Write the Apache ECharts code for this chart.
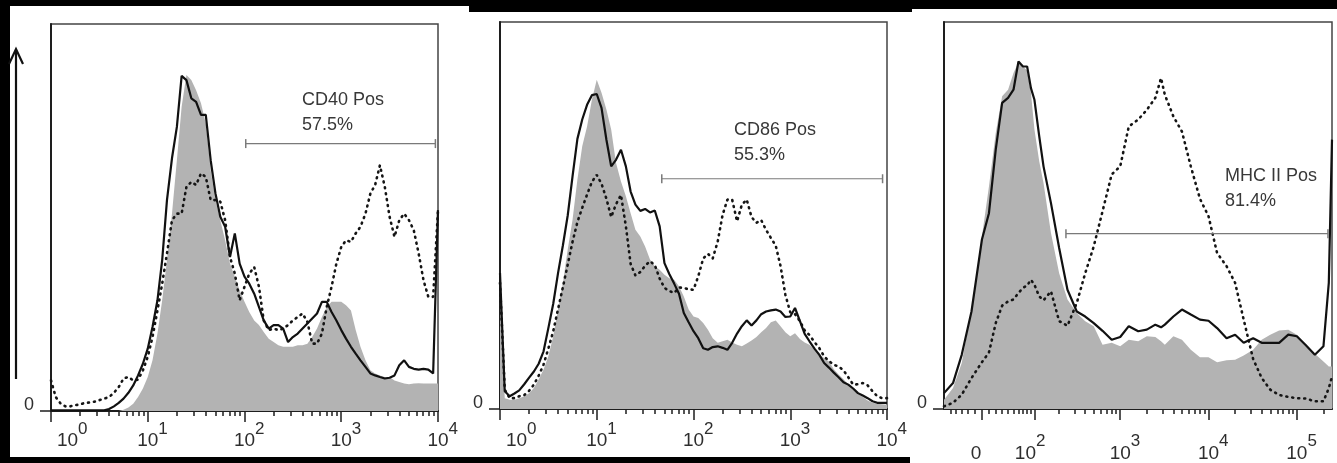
<!DOCTYPE html>
<html><head><meta charset="utf-8">
<script src="https://cdn.jsdelivr.net/npm/echarts@6/dist/echarts.min.js"></script>
<style>html,body{margin:0;padding:0;background:#fff;}#c{width:1337px;height:463px;}</style>
</head><body><div id="c"></div>
<script>
// ---- shared x grid for the two log-scaled panels (fluorescence intensity) ----
const logX = [1,1.12,1.26,1.41,1.58,1.78,2,2.24,2.51,2.82,3.16,3.55,3.98,4.47,5.01,5.62,6.31,7.08,7.94,8.91,
  10,11.2,12.6,14.1,15.8,17.8,20,22.4,25.1,28.2,31.6,35.5,39.8,44.7,50.1,56.2,63.1,70.8,79.4,89.1,
  100,112,126,141,158,178,200,224,251,282,316,355,398,447,501,562,631,708,794,891,
  1000,1120,1260,1410,1580,1780,2000,2240,2510,2820,3160,3550,3980,4470,5010,5620,6310,7080,7940,8910,10000];

// ---- Panel 1: CD40 (% of max) ----
const cd40Isotype = [0,0,0,0,0,0,0,0,0,0,0,0,0,0,0,0.3,0.9,1.9,3.6,5.8,8.8,13.1,20.0,28.6,39.0,51.0,64.8,78.6,86.8,85.5,
  82.9,79.5,74.3,62.2,54.5,49.3,44.1,38.1,34.7,31.2,28.2,25.6,23.4,22.2,20.4,18.7,17.8,17.0,16.6,16.6,
  16.6,17.0,17.0,17.4,19.1,21.3,24.3,26.9,28.2,28.2,28.2,27.3,26.0,20.9,16.6,13.1,10.5,9.7,9.2,8.8,
  8.8,7.9,7.5,7.1,6.9,7.1,7.2,7.1,7.1,7.1,7.1];
const cd40Solid = [0.2,0.2,0.2,0.2,0.2,0.2,0.2,0.2,0.2,0.2,0.2,0.2,0.5,1.2,2.1,3.2,4.7,6.6,9.2,12.2,
  16.1,21.7,28.6,39.0,54.5,65.3,73.4,86.6,85.5,80.8,79.9,76.5,76.5,64.8,56.2,50.2,47.6,39.8,45.9,38.1,
  34.7,32.9,30.3,26.9,23.4,21.3,22.2,22.2,21.3,17.8,19.1,20.0,21.3,22.6,23.9,25.2,28.2,28.2,25.6,23.4,
  20.9,18.7,16.6,14.8,13.1,11.4,9.7,9.2,8.8,8.4,8.6,9.2,11.8,13.1,11.4,10.9,10.7,10.9,10.7,9.7,51.9];
const cd40Dotted = [7.9,3.6,1.9,1.2,1.2,1.5,1.7,2.1,2.2,2.4,2.8,3.2,3.6,4.7,6.2,8.4,8.8,7.9,8.1,10.5,
  14.0,19.1,26.0,32.9,40.7,49.3,51.0,51.0,57.9,59.2,58.4,61.4,60.5,54.5,54.5,54.1,49.3,39.8,35.5,28.6,
  32.1,35.5,37.2,32.1,23.4,20.9,21.3,20.9,21.3,22.2,23.4,24.3,25.2,23.0,17.4,17.4,20.0,26.9,32.1,38.1,
  42.4,44.1,43.7,45.9,47.6,51.0,56.2,58.4,63.5,57.9,50.2,45.0,49.3,51.0,49.3,46.7,40.7,33.8,29.5,29.5,51.9];

// ---- Panel 2: CD86 ----
const cd86Isotype = [28.3,2.8,2.4,2.4,2.8,3.3,4.1,5.4,7.6,10.2,13.6,18.8,25.7,32.6,41.2,48.9,59.3,67.9,73.0,79.9,
  85.1,81.7,77.3,72.2,63.6,58.8,55.0,50.6,46.3,44.6,42.0,38.6,36.9,36.0,34.7,33.8,33.4,31.7,29.1,25.7,
  23.9,23.5,22.2,20.5,18.3,17.1,17.5,17.9,17.2,16.6,16.2,16.9,17.7,18.6,19.8,20.9,22.4,22.9,21.4,19.8,
  18.8,19.6,18.1,17.2,16.6,15.3,14.0,13.2,12.3,10.3,8.9,7.7,6.3,5.2,4.1,3.1,2.2,1.6,1.4,1.2,1.1];
const cd86Solid = [35.1,4.6,3.3,4.0,4.8,6.4,8.1,9.7,11.7,14.9,20.9,27.2,35.1,42.3,50.0,60.1,69.8,74.8,78.6,81.1,
  81.4,77.8,69.5,62.7,64.4,67.0,62.7,56.2,52.8,51.2,51.7,50.8,51.3,47.2,37.7,34.9,32.4,29.8,24.8,22.4,
  20.1,18.3,15.7,15.3,16.0,16.2,15.8,15.3,17.1,19.5,21.4,22.9,21.6,22.9,24.5,25.2,25.5,25.7,25.2,23.8,
  23.9,26.1,22.7,19.4,17.5,15.6,14.0,11.9,10.7,9.4,8.2,6.9,6.3,5.3,4.1,3.5,2.8,2.0,1.6,1.6,1.6];
const cd86Dotted = [32.6,5.0,2.8,2.8,3.3,3.6,4.7,6.3,8.6,11.5,15.6,20.1,25.8,31.5,37.3,43.2,48.3,52.0,55.4,58.7,
  60.5,58.2,54.3,49.6,52.9,55.3,47.2,37.5,34.5,35.4,37.0,38.2,37.2,33.7,31.3,30.5,30.0,31.4,31.3,30.9,
  30.8,34.3,38.9,40.1,38.9,43.3,50.2,54.1,54.1,48.5,52.8,54.1,49.6,48.1,48.8,46.3,44.2,42.2,36.9,29.5,
  25.0,24.5,22.7,20.3,19.1,17.3,15.7,13.6,12.4,11.4,11.0,10.0,8.2,6.3,6.4,6.7,6.1,4.6,3.3,2.8,2.8];

// ---- Panel 3: MHC II (biexponential axis) ----
const mhcX = [-63,-45,-30,-15,0,10,20,30,40,50,60,70,80,90,100,115,130,160,200,250,320,400,500,630,800,
  1000,1250,1600,2000,2500,2900,3200,4000,5000,6300,8000,10000,12500,16000,20000,25000,32000,40000,50000,
  63000,80000,100000,125000,160000,200000,230000,250000];
const mhcIsotype = [2.4,5.4,11.9,25.7,44.6,57.5,71.3,80.8,82.5,86.8,89.6,88.5,87.5,81.7,72.2,64.0,58.4,45.5,35.1,28.3,
  24.8,22.7,21.4,16.6,17.1,16.2,17.9,17.5,18.8,18.6,17.5,16.6,18.8,17.9,15.3,13.4,13.4,12.1,12.6,12.7,
  13.8,15.3,17.9,19.2,20.3,20.5,19.2,16.6,14.3,12.3,11.0,11.0];
const mhcSolid = [4.1,6.7,14.0,25.2,43.8,50.6,67.0,79.1,80.4,82.5,89.8,88.5,88.5,82.9,79.9,70.5,62.7,53.2,41.6,30.8,
  25.2,23.9,22.2,20.2,17.9,18.6,21.4,20.1,20.5,21.8,21.1,21.8,23.9,25.7,24.4,23.1,22.8,20.9,18.3,19.2,
  17.1,18.3,17.1,17.1,17.1,19.2,18.8,16.6,14.0,16.2,32.6,69.6];
const mhcDotted = [0.7,1.6,3.7,8.0,12.1,14.6,22.2,26.7,27.8,28.3,30.0,31.3,31.9,33.4,32.1,29.1,28.1,30.4,22.7,21.5,
  27.4,35.1,42.0,51.1,60.6,62.7,73.0,74.8,77.3,80.4,85.5,81.2,75.6,71.7,62.7,54.3,49.8,40.3,36.9,32.6,
  23.1,12.9,8.0,5.0,3.6,3.1,2.8,2.7,2.0,2.0,5.4,8.4];

// ---- gates ----
const gateNames = ['CD40 Pos', 'CD86 Pos', 'MHC II Pos'];
const gatePct = ['57.5%', '55.3%', '81.4%'];
const gateX = [[103, 9400], [47, 9000], [240, 225000]];
const gateY = [69.1, 59.5, 45.3];

// ---- tick values ----
const logMajor = [1, 10, 100, 1000, 10000];
const logMinor = [2,3,4,5,6,7,8,9,20,30,40,50,60,70,80,90,200,300,400,500,600,700,800,900,2000,3000,4000,5000,6000,7000,8000,9000];
const biexMajor = [0, 100, 1000, 10000, 100000];
const biexMinor = [-50,-40,-30,-20,-10,10,20,30,40,50,60,70,80,90,200,300,400,500,600,700,800,900,
  2000,3000,4000,5000,6000,7000,8000,9000,20000,30000,40000,50000,60000,70000,80000,90000,200000];

// biexponential (arcsinh) display transform
const W = 27.2;
function biex(v) { return Math.asinh(v / (2 * W)) / Math.LN10; }
function unbiex(d) { return 2 * W * Math.sinh(d * Math.LN10); }
function pairs(xs, ys, f) { return xs.map((x, i) => [f ? f(x) : x, ys[i]]); }

const FONT = '"Liberation Sans", Arial, sans-serif';
const TXT = '#2e2e2e';
const baseRich = {
  b: { fontSize: 19, fontFamily: FONT, color: TXT, lineHeight: 19 },
  q: { width: 33, fontSize: 19, lineHeight: 19 },
  r: { width: 12, fontSize: 19, lineHeight: 19 },
  r2: { width: 18, fontSize: 19, lineHeight: 19 }
};
const expRich = {
  e: { fontSize: 17, fontFamily: FONT, color: TXT, lineHeight: 17 },
  g: { width: 30.6, fontSize: 17, lineHeight: 17 },
  g0: { width: 63.6, fontSize: 17, lineHeight: 17 },
  g2: { width: 12.6, fontSize: 17, lineHeight: 17 }
};
// exponent of a major tick value
function expOf(v, isBiex) {
  const raw = isBiex ? unbiex(v) : v;
  if (Math.abs(raw) < 1) return null;
  return Math.round(Math.log10(raw));
}
function baseFmt(isBiex) {
  return function (v) {
    const e = expOf(v, isBiex);
    if (e === null) return '{b|0}{r| }';
    if (!isBiex && e === 0) return '{q| }{b|10}';
    if (isBiex && e === 2) return '{b|10}{r2| }';
    return '{b|10}';
  };
}
function expFmt(isBiex) {
  return function (v) {
    const e = expOf(v, isBiex);
    if (e === null) return '';
    if (!isBiex && e === 0) return '{g0| }{e|' + e + '}';
    if (isBiex && e === 2) return '{g2| }{e|' + e + '}';
    return '{g| }{e|' + e + '}';
  };
}

const grids = [
  { left: 51, top: 24, width: 387, height: 387 },
  { left: 500, top: 22, width: 387, height: 387 },
  { left: 944, top: 22, width: 388, height: 387 }
].map(g => Object.assign(g, { show: true, borderColor: '#444', borderWidth: 1.5, backgroundColor: 'transparent' }));
const baseMargin = [20, 22, 35];
const expMargin = [9.5, 11.5, 23.5];

const axisLineStyle = { color: '#1e1e1e', width: 2 };
const tickStyle = { color: '#1e1e1e', width: 1.5 };
const xAxes = [];
[0, 1, 2].forEach(g => {
  const isBiex = g === 2;
  const base = isBiex
    ? { type: 'value', min: biex(-63), max: biex(250000) }
    : { type: 'log', logBase: 10, min: 1, max: 10000 };
  const major = isBiex ? biexMajor.map(biex) : logMajor;
  const minor = isBiex ? biexMinor.map(biex) : logMinor;
  // major ticks + base "10" labels
  xAxes.push(Object.assign({}, base, {
    gridIndex: g, position: 'bottom',
    axisLine: { show: true, onZero: false, lineStyle: axisLineStyle },
    axisTick: { show: true, customValues: major, length: 11, lineStyle: tickStyle },
    axisLabel: { show: true, customValues: major, margin: baseMargin[g], formatter: baseFmt(isBiex), rich: baseRich },
    splitLine: { show: false }
  }));
  // minor ticks
  xAxes.push(Object.assign({}, base, {
    gridIndex: g, position: 'bottom',
    axisLine: { show: false },
    axisTick: { show: true, customValues: minor, length: 5, lineStyle: tickStyle },
    axisLabel: { show: false },
    splitLine: { show: false }
  }));
  // exponents (superscripts)
  xAxes.push(Object.assign({}, base, {
    gridIndex: g, position: 'bottom',
    axisLine: { show: false },
    axisTick: { show: false },
    axisLabel: { show: true, customValues: major, margin: expMargin[g], formatter: expFmt(isBiex), rich: expRich },
    splitLine: { show: false }
  }));
});

const yAxes = [0, 1, 2].map(g => ({
  type: 'value', gridIndex: g, min: 0, max: 100,
  axisLine: { show: true, onZero: false, lineStyle: axisLineStyle },
  axisTick: { show: true, customValues: [0], length: 11, lineStyle: tickStyle },
  axisLabel: { show: true, customValues: [0], formatter: () => '0', margin: 17, fontSize: 18,
    fontFamily: FONT, color: TXT, verticalAlign: 'bottom', lineHeight: 12 },
  splitLine: { show: false }
}));

const panelData = [
  { xs: logX, iso: cd40Isotype, solid: cd40Solid, dot: cd40Dotted, f: null },
  { xs: logX, iso: cd86Isotype, solid: cd86Solid, dot: cd86Dotted, f: null },
  { xs: mhcX, iso: mhcIsotype, solid: mhcSolid, dot: mhcDotted, f: biex }
];
const series = [];
panelData.forEach((p, g) => {
  const common = { xAxisIndex: 3 * g, yAxisIndex: g, symbol: 'none', silent: true, animation: false };
  series.push(Object.assign({ type: 'line', data: pairs(p.xs, p.iso, p.f), lineStyle: { width: 0 },
    areaStyle: { color: '#b3b3b3', opacity: 1 }, z: 1 }, common));
  series.push(Object.assign({ type: 'line', data: pairs(p.xs, p.dot, p.f),
    lineStyle: { color: '#151515', width: 2.6, type: [1, 5], cap: 'round' }, z: 3 }, common));
  series.push(Object.assign({ type: 'line', data: pairs(p.xs, p.solid, p.f),
    lineStyle: { color: '#111', width: 2.2 }, z: 4 }, common));
  series.push({ type: 'line', xAxisIndex: 3 * g, yAxisIndex: g, silent: true, animation: false,
    data: gateX[g].map(x => [p.f ? p.f(x) : x, gateY[g]]),
    symbol: 'rect', symbolSize: [1.5, 9], itemStyle: { color: '#7a7a7a' },
    lineStyle: { color: '#7a7a7a', width: 1.2 }, z: 5 });
});

const textPos = [[302, 100], [734, 130], [1225, 176.5]];
const graphic = [
  { type: 'rect', shape: { x: 0, y: 0, width: 10, height: 463 }, style: { fill: '#000' } },
  { type: 'rect', shape: { x: 0, y: 0, width: 469, height: 6 }, style: { fill: '#000' } },
  { type: 'rect', shape: { x: 469, y: 0, width: 443, height: 12 }, style: { fill: '#000' } },
  { type: 'rect', shape: { x: 912, y: 0, width: 425, height: 9 }, style: { fill: '#000' } },
  { type: 'rect', shape: { x: 0, y: 457, width: 910, height: 6 }, style: { fill: '#000' } },
  { type: 'line', shape: { x1: 16, y1: 379, x2: 16, y2: 50 }, style: { stroke: '#111', lineWidth: 2.2 } },
  { type: 'polyline', shape: { points: [[9, 64], [16, 49], [23, 64]] }, style: { stroke: '#111', lineWidth: 2.2, fill: null } }
];
textPos.forEach((t, g) => {
  graphic.push({ type: 'text', x: t[0], y: t[1], style: { text: gateNames[g], fill: '#383838',
    font: '18px ' + FONT, align: 'left', verticalAlign: 'middle' } });
  graphic.push({ type: 'text', x: t[0], y: t[1] + 25, style: { text: gatePct[g], fill: '#383838',
    font: '18px ' + FONT, align: 'left', verticalAlign: 'middle' } });
});

const chart = echarts.init(document.getElementById('c'));
chart.setOption({
  backgroundColor: '#fff',
  animation: false,
  grid: grids,
  xAxis: xAxes,
  yAxis: yAxes,
  series: series,
  graphic: graphic
});
</script>
</body></html>
